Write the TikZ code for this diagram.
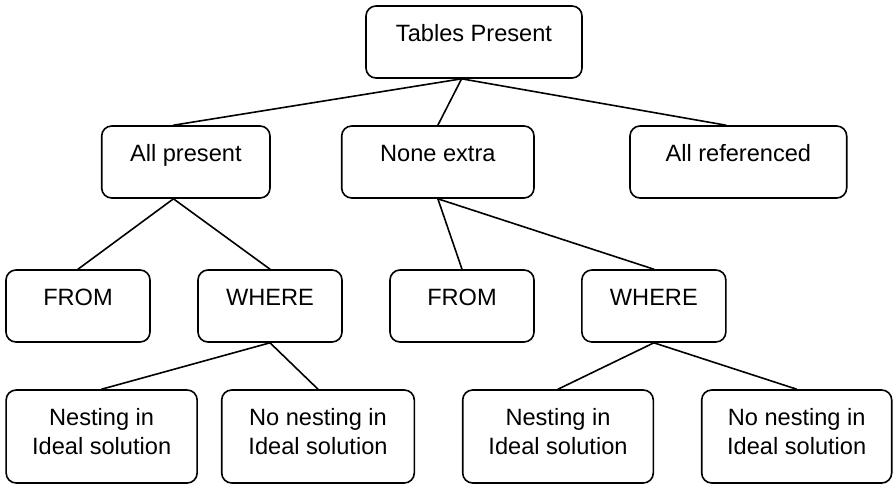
\documentclass[tikz,border=0pt]{standalone}
\usepackage{fontspec}
\setmainfont{Liberation Sans}
\begin{document}
\begin{tikzpicture}[x=1pt,y=-1pt,
  box/.style={draw=black, line width=1.6pt, rounded corners=10pt, inner sep=0pt, minimum height=72pt},
  tallbox/.style={box, minimum height=93pt, minimum width=191pt},
  lbl/.style={font=\fontsize{23.6}{28.4}\selectfont, inner sep=0pt, align=center},
  conn/.style={line width=1.6pt, line cap=round}]
\useasboundingbox (0,0) rectangle (893,485);
% boxes
\node[box, minimum width=216pt] (tp) at (474,42) {};
\node[box, minimum width=168.3pt] (ap) at (185.85,162) {};
\node[box, minimum width=192.3pt] (ne) at (437.85,162) {};
\node[box, minimum width=216.7pt] (ar) at (738.35,162) {};
\node[box, minimum width=144pt] (fl) at (78,306) {};
\node[box, minimum width=144pt] (wl) at (270,306) {};
\node[box, minimum width=144pt] (fm) at (462,306) {};
\node[box, minimum width=144pt] (wm) at (653.85,306) {};
\node[tallbox] (nl) at (101.65,436.5) {};
\node[tallbox, minimum width=192.6pt] (nnl) at (318,436.5) {};
\node[tallbox, minimum width=190.6pt] (nm) at (558,436.5) {};
\node[tallbox, minimum width=190pt] (nnr) at (796.7,436.5) {};
% labels
\node[lbl, anchor=base] (tpt) at ([yshift=-36.5pt]tp.north) {Tables Present};
\node[lbl, anchor=base] (apt) at ([yshift=-36.5pt]ap.north) {All present};
\node[lbl, anchor=base] (net) at ([yshift=-36.5pt]ne.north) {None extra};
\node[lbl, anchor=base] (art) at ([yshift=-36.5pt]ar.north) {All referenced};
\node[lbl, anchor=base] (flt) at ([yshift=-36.5pt]fl.north) {FROM};
\node[lbl, anchor=base] (wlt) at ([yshift=-36.5pt]wl.north) {WHERE};
\node[lbl, anchor=base] (fmt) at ([yshift=-36.5pt]fm.north) {FROM};
\node[lbl, anchor=base] (wmt) at ([yshift=-36.5pt]wm.north) {WHERE};
\node[lbl] (nlt) at ([yshift=-42.5pt]nl.north) {Nesting in\\Ideal solution};
\node[lbl] (nnlt) at ([yshift=-42.5pt]nnl.north) {No nesting in\\Ideal solution};
\node[lbl] (nmt) at ([yshift=-42.5pt]nm.north) {Nesting in\\Ideal solution};
\node[lbl] (nnrt) at ([yshift=-42.5pt]nnr.north) {No nesting in\\Ideal solution};
% connectors
\draw[conn] ([xshift=-12.4pt]tp.south) -- ([xshift=-12.4pt]ap.north);
\draw[conn] ([xshift=-12.4pt]tp.south) -- (ne.north);
\draw[conn] ([xshift=-12.4pt]tp.south) -- ([xshift=-12.4pt]ar.north);
\draw[conn] ([xshift=-12.4pt]ap.south) -- (fl.north);
\draw[conn] ([xshift=-12.4pt]ap.south) -- (wl.north);
\draw[conn] (ne.south) -- (fm.north);
\draw[conn] (ne.south) -- (wm.north);
\draw[conn] (wl.south) -- (nl.north);
\draw[conn] (wl.south) -- (nnl.north);
\draw[conn] (wm.south) -- (nm.north);
\draw[conn] (wm.south) -- (nnr.north);
\end{tikzpicture}
\end{document}
